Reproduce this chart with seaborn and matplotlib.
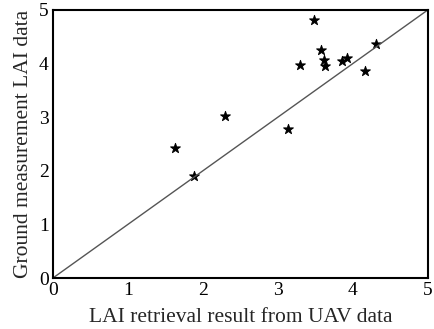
import numpy as np
import pandas as pd
import matplotlib
matplotlib.use("Agg")
import matplotlib.pyplot as plt
import seaborn as sns

# Data
uav_lai = [1.63, 1.88, 2.30, 3.13, 3.30, 3.48, 3.57, 3.61, 3.63, 3.85, 3.92, 4.16, 4.31]
ground_lai = [2.43, 1.90, 3.02, 2.77, 3.97, 4.81, 4.25, 4.07, 3.95, 4.05, 4.10, 3.86, 4.36]
line_x = [0, 5]
line_y = [0, 5]
ticks = [0, 1, 2, 3, 4, 5]

df = pd.DataFrame({"uav": uav_lai, "ground": ground_lai})
ref = pd.DataFrame({"x": line_x, "y": line_y})

sns.set_theme(style="white")
plt.rcParams["font.family"] = ["Liberation Serif", "DejaVu Serif"]

fig = plt.figure(figsize=(4.34, 3.29), dpi=100)
ax = fig.add_axes([0.122, 0.155, 0.864, 0.815])

sns.lineplot(data=ref, x="x", y="y", ax=ax, color="#555555", linewidth=1.0)
sns.scatterplot(data=df, x="uav", y="ground", ax=ax, marker="*", s=55,
                color="black", edgecolor="black", linewidth=0.7)

ax.set_xlim(0, 5)
ax.set_ylim(0, 5)
ax.set_xticks(ticks)
ax.set_yticks(ticks)
ax.tick_params(direction="in", length=5, width=1, labelsize=14, pad=3,
               colors="black")
for spine in ax.spines.values():
    spine.set_color("black")
    spine.set_linewidth(1.5)

ax.set_xlabel("LAI retrieval result from UAV data", fontsize=15.5, labelpad=6)
ax.set_ylabel("Ground measurement LAI data", fontsize=15.5, labelpad=4)

fig.savefig("out.png", dpi=100)
